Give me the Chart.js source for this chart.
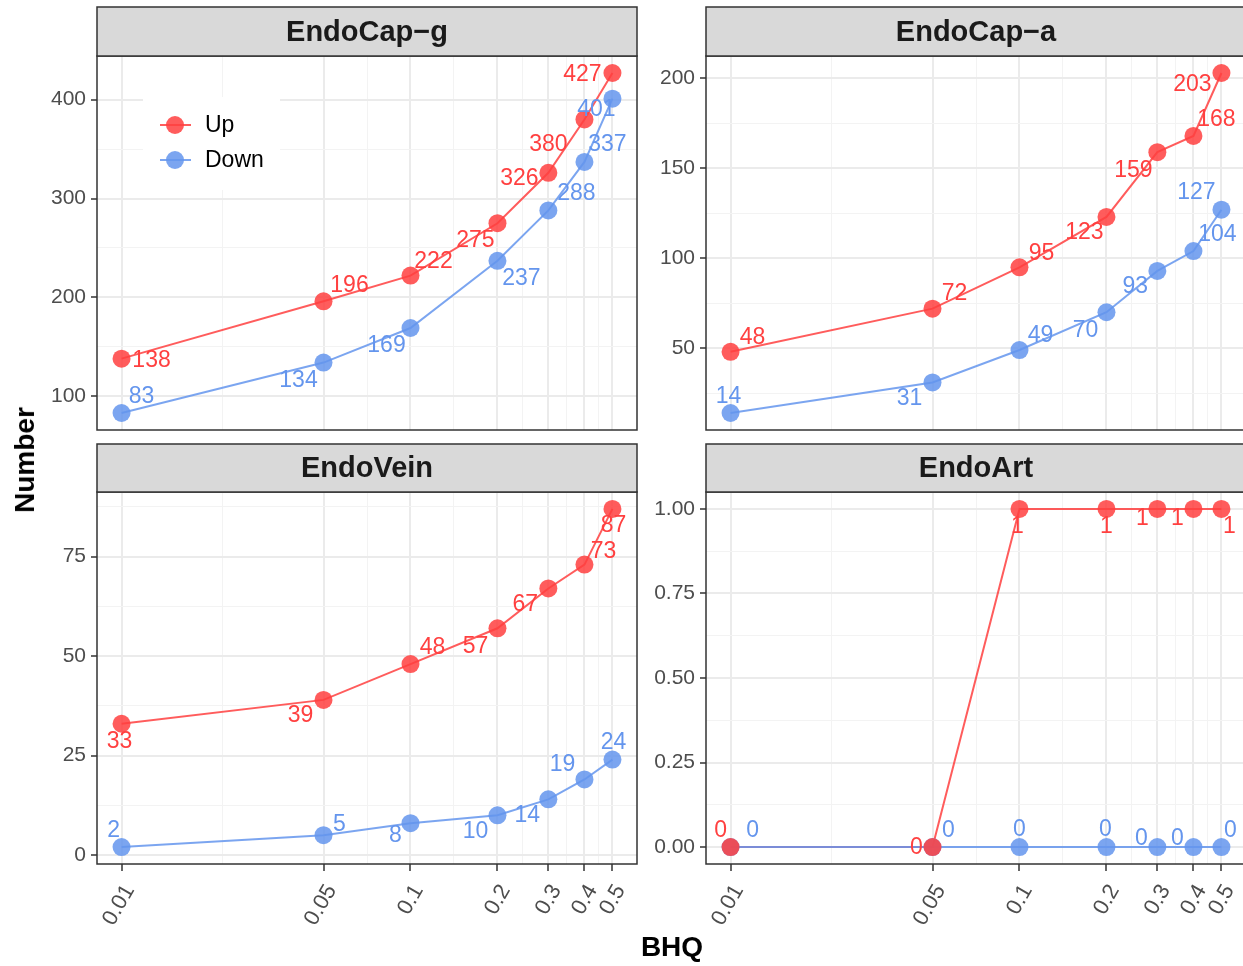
<!DOCTYPE html>
<html>
<head>
<meta charset="utf-8">
<script src="https://cdn.jsdelivr.net/npm/chart.js@4.4.0/dist/chart.umd.min.js"></script>
<style>
html, body { margin: 0; padding: 0; background: #fff; }
body { width: 1243px; height: 966px; overflow: hidden; position: relative; }
canvas { position: absolute; }
.title { position: absolute; font-family: "Liberation Sans", Arial, Helvetica, sans-serif; font-weight: bold; font-size: 28px; color: #000; white-space: nowrap; }
#ytitle { left: 25px; top: 460px; transform: translate(-50%, -50%) rotate(-90deg); }
#xtitle { left: 672px; top: 947px; transform: translate(-50%, -50%); }
</style>
</head>
<body>
<canvas id="capG" width="640" height="440" style="left:0;top:0"></canvas>
<canvas id="capA" width="606" height="440" style="left:640px;top:0"></canvas>
<canvas id="vein" width="640" height="526" style="left:0;top:440px"></canvas>
<canvas id="art" width="606" height="526" style="left:640px;top:440px"></canvas>
<div class="title" id="ytitle">Number</div>
<div class="title" id="xtitle">BHQ</div>
<script>
// x categories (BHQ cutoff, log scale)
var bhq = [0.01, 0.05, 0.1, 0.2, 0.3, 0.4, 0.5];
var bhqLabels = ['0.01', '0.05', '0.1', '0.2', '0.3', '0.4', '0.5'];

// number of genes per panel
var capGUp = [138, 196, 222, 275, 326, 380, 427];
var capGDown = [83, 134, 169, 237, 288, 337, 401];
var capAUp = [48, 72, 95, 123, 159, 168, 203];
var capADown = [14, 31, 49, 70, 93, 104, 127];
var veinUp = [33, 39, 48, 57, 67, 73, 87];
var veinDown = [2, 5, 8, 10, 14, 19, 24];
var artUp = [0, 0, 1, 1, 1, 1, 1];
var artDown = [0, 0, 0, 0, 0, 0, 0];

// y tick labels
var capGTicks = [100, 200, 300, 400];
var capATicks = [50, 100, 150, 200];
var veinTicks = [0, 25, 50, 75];
var artTicks = [0, 0.25, 0.5, 0.75, 1];
var artTickLabels = ['0.00', '0.25', '0.50', '0.75', '1.00'];

// where the repelled text labels sit, in px from their point
var capGUpShift = [[30, 2], [26, -16], [23, -14], [-22, 17], [-29, 6], [-36, 25], [-30, 2]];
var capGDownShift = [[20, -16], [-25, 18], [-24, 18], [24, 18], [28, -17], [23, -17], [-16, 11]];
var capAUpShift = [[22, -14], [22, -15], [22, -14], [-22, 16], [-24, 19], [23, -16], [-29, 12]];
var capADownShift = [[-2, -16], [-23, 16], [21, -14], [-21, 18], [-22, 16], [24, -16], [-25, -17]];
var veinUpShift = [[-2, 18], [-23, 16], [22, -16], [-22, 18], [-23, 16], [19, -13], [1, 17]];
var veinDownShift = [[-8, -16], [16, -10], [-15, 12], [-22, 16], [-21, 16], [-22, -15], [1, -17]];
var artUpShift = [[-10, -16], [-16, 1], [-2, 18], [0, 18], [-15, 10], [-16, 10], [8, 18]];
var artDownShift = [[22, -16], [16, -16], [0, -17], [-1, -17], [-16, -8], [-16, -8], [9, -16]];

var RED = 'rgba(255, 64, 64, 0.85)';
var BLUE = 'rgba(100, 149, 237, 0.85)';
var RED_TEXT = '#FF4040';
var BLUE_TEXT = '#6495ED';
var FONT = '"Liberation Sans", Arial, Helvetica, sans-serif';

// ggplot-like 5% expansion
function expand(lo, hi) {
    var pad = (hi - lo) * 0.05;
    return [lo - pad, hi + pad];
}

var logLo = Math.log10(bhq[0]);
var logHi = Math.log10(bhq[bhq.length - 1]);
var xr = expand(logLo, logHi);
var xMin = Math.pow(10, xr[0]);
var xMax = Math.pow(10, xr[1]);

function xTickList() {
    var list = [];
    for (var i = 0; i < bhq.length; i++) {
        list.push({ value: bhq[i], text: bhqLabels[i], minor: false });
        if (i < bhq.length - 1) {
            list.push({ value: Math.sqrt(bhq[i] * bhq[i + 1]), text: '', minor: true });
        }
    }
    return list;
}

function yTickList(ticks, labels, lo, hi) {
    var list = [];
    var step = ticks[1] - ticks[0];
    for (var i = 0; i < ticks.length; i++) {
        list.push({ value: ticks[i], text: labels[i], minor: false });
    }
    for (var v = ticks[0] - step / 2; v < hi; v += step) {
        if (v > lo) list.push({ value: v, text: '', minor: true });
    }
    list.sort(function (a, b) { return a.value - b.value; });
    return list;
}

function isMinor(ctx) {
    return ctx.tick && ctx.tick.minor;
}

var panelPlugin = {
    id: 'panel',
    afterDatasetsDraw: function (chart) {
        var ctx = chart.ctx;
        ctx.save();
        ctx.font = '23px ' + FONT;
        ctx.textAlign = 'center';
        ctx.textBaseline = 'middle';
        chart.data.datasets.forEach(function (ds, di) {
            if (!ds.shifts) return;
            var meta = chart.getDatasetMeta(di);
            ctx.fillStyle = ds.textColor;
            meta.data.forEach(function (pt, i) {
                var s = ds.shifts[i];
                ctx.fillText(String(ds.data[i].y), pt.x + s[0], pt.y + s[1]);
            });
        });
        ctx.restore();
    },
    afterDraw: function (chart) {
        var ctx = chart.ctx;
        var a = chart.chartArea;
        var o = chart.options.plugins.panel;
        ctx.save();
        // panel border
        ctx.strokeStyle = '#333333';
        ctx.lineWidth = 1.5;
        ctx.strokeRect(a.left, a.top, a.right - a.left, a.bottom - a.top);
        // strip
        ctx.fillStyle = '#D9D9D9';
        ctx.fillRect(a.left, o.stripTop, a.right - a.left, a.top - o.stripTop);
        ctx.strokeRect(a.left, o.stripTop, a.right - a.left, a.top - o.stripTop);
        ctx.fillStyle = '#1A1A1A';
        ctx.font = 'bold 29px ' + FONT;
        ctx.textAlign = 'center';
        ctx.textBaseline = 'middle';
        ctx.fillText(o.title, (a.left + a.right) / 2, (o.stripTop + a.top) / 2 + 1);
        // legend
        if (o.legend) {
            ctx.fillStyle = '#FFFFFF';
            ctx.fillRect(143, 97, 137, 93);
            var items = [['Up', RED, 125], ['Down', BLUE, 160]];
            items.forEach(function (it) {
                ctx.strokeStyle = it[1];
                ctx.lineWidth = 2;
                ctx.beginPath();
                ctx.moveTo(160, it[2]);
                ctx.lineTo(191, it[2]);
                ctx.stroke();
                ctx.fillStyle = it[1];
                ctx.beginPath();
                ctx.arc(175, it[2], 9, 0, Math.PI * 2);
                ctx.fill();
                ctx.fillStyle = '#000000';
                ctx.font = '23px ' + FONT;
                ctx.textAlign = 'left';
                ctx.fillText(it[0], 205, it[2] + 1);
            });
        }
        ctx.restore();
    }
};

function makePanel(id, p) {
    var all = p.up.concat(p.down);
    var yr = expand(Math.min.apply(null, all), Math.max.apply(null, all));
    var ctx = document.getElementById(id).getContext('2d');

    function points(values) {
        return bhq.map(function (x, i) { return { x: x, y: values[i] }; });
    }

    // lines first (Up under Down), then points (Down under Up), like ggplot layers
    function lineSet(name, values, color, order) {
        return {
            label: name + ' line', data: points(values), order: order,
            borderColor: color, borderWidth: 2, tension: 0, pointRadius: 0
        };
    }

    function pointSet(name, values, color, textColor, shifts, order) {
        return {
            label: name, data: points(values), order: order, showLine: false,
            backgroundColor: color, pointBackgroundColor: color,
            pointBorderWidth: 0, pointRadius: 9,
            textColor: textColor, shifts: shifts
        };
    }

    return new Chart(ctx, {
        type: 'line',
        data: {
            datasets: [
                lineSet('Up', p.up, RED, 3),
                lineSet('Down', p.down, BLUE, 2),
                pointSet('Down', p.down, BLUE, BLUE_TEXT, p.downShift, 1),
                pointSet('Up', p.up, RED, RED_TEXT, p.upShift, 0)
            ]
        },
        options: {
            responsive: false,
            animation: false,
            events: [],
            layout: {
                autoPadding: false,
                padding: { top: p.plotTop, left: 0, right: p.padRight, bottom: p.showX ? 0 : 10 }
            },
            plugins: {
                legend: { display: false },
                tooltip: { enabled: false },
                panel: { title: p.title, stripTop: p.stripTop, legend: p.legend }
            },
            scales: {
                x: {
                    type: 'logarithmic',
                    min: xMin,
                    max: xMax,
                    afterBuildTicks: function (s) { s.ticks = xTickList(); },
                    afterFit: function (s) {
                        s.height = p.showX ? 102 : 0;
                        s.paddingLeft = 0;
                        s.paddingRight = 0;
                    },
                    ticks: {
                        display: p.showX,
                        autoSkip: false,
                        minRotation: 60,
                        maxRotation: 60,
                        padding: 9,
                        labelOffset: 8,
                        color: '#4D4D4D',
                        font: { family: FONT, size: 22 },
                        callback: function (v, i, t) { return t[i].text; }
                    },
                    grid: {
                        color: function (c) { return isMinor(c) ? '#F3F3F3' : '#EBEBEB'; },
                        lineWidth: function (c) { return isMinor(c) ? 1 : 2; },
                        drawTicks: p.showX,
                        tickLength: 7,
                        tickWidth: 1.5,
                        tickColor: function (c) { return isMinor(c) ? 'rgba(0,0,0,0)' : '#333333'; }
                    },
                    border: { display: false }
                },
                y: {
                    type: 'linear',
                    min: yr[0],
                    max: yr[1],
                    afterBuildTicks: function (s) { s.ticks = yTickList(p.yTicks, p.yLabels, yr[0], yr[1]); },
                    afterFit: function (s) {
                        s.width = p.yWidth;
                        s.paddingTop = 0;
                        s.paddingBottom = 0;
                    },
                    ticks: {
                        autoSkip: false,
                        padding: 5,
                        color: '#4D4D4D',
                        font: { family: FONT, size: 21 },
                        callback: function (v, i, t) { return t[i].text; }
                    },
                    grid: {
                        color: function (c) { return isMinor(c) ? '#F3F3F3' : '#EBEBEB'; },
                        lineWidth: function (c) { return isMinor(c) ? 1 : 2; },
                        tickLength: 6,
                        tickWidth: 1.5,
                        tickColor: function (c) { return isMinor(c) ? 'rgba(0,0,0,0)' : '#333333'; }
                    },
                    border: { display: false }
                }
            }
        },
        plugins: [panelPlugin]
    });
}

makePanel('capG', {
    title: 'EndoCap\u2212g', up: capGUp, down: capGDown, upShift: capGUpShift, downShift: capGDownShift,
    yTicks: capGTicks, yLabels: capGTicks.map(String), yWidth: 97, padRight: 3,
    stripTop: 7, plotTop: 56, showX: false, legend: true
});
makePanel('capA', {
    title: 'EndoCap\u2212a', up: capAUp, down: capADown, upShift: capAUpShift, downShift: capADownShift,
    yTicks: capATicks, yLabels: capATicks.map(String), yWidth: 66, padRight: 0,
    stripTop: 7, plotTop: 56, showX: false, legend: false
});
makePanel('vein', {
    title: 'EndoVein', up: veinUp, down: veinDown, upShift: veinUpShift, downShift: veinDownShift,
    yTicks: veinTicks, yLabels: veinTicks.map(String), yWidth: 97, padRight: 3,
    stripTop: 4, plotTop: 52, showX: true, legend: false
});
makePanel('art', {
    title: 'EndoArt', up: artUp, down: artDown, upShift: artUpShift, downShift: artDownShift,
    yTicks: artTicks, yLabels: artTickLabels, yWidth: 66, padRight: 0,
    stripTop: 4, plotTop: 52, showX: true, legend: false
});
</script>
</body>
</html>
